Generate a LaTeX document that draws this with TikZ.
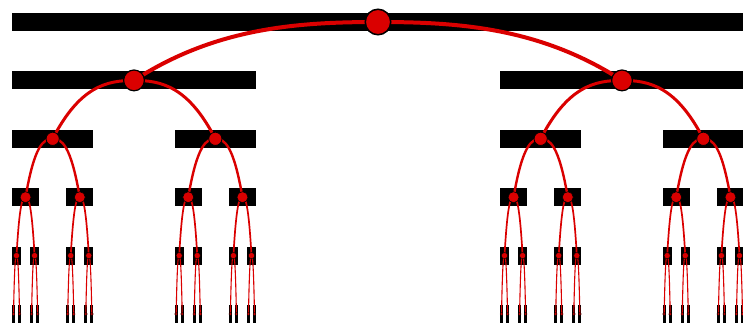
\documentclass[tikz,border=0pt]{standalone}
\usetikzlibrary{calc}
\definecolor{tred}{RGB}{218,0,0}
\pgfdeclarelayer{bars}
\pgfdeclarelayer{edges}
\pgfsetlayers{bars,edges,main}
\tikzset{
  barfill/.style={fill=black},
  cnode/.style={circle, fill=tred, draw=black, inner sep=0pt},
  tedge/.style={draw=tred},
}
\begin{document}
\begin{tikzpicture}[x=1pt,y=-1pt]
\useasboundingbox (0,0) rectangle (743,325);
\clip (0,0) rectangle (743,325);
% centres of the Cantor intervals
\expandafter\xdef\csname cx-0-0\endcsname{378}
\foreach \L in {1,...,5}{
  \pgfmathtruncatemacro\Lm{\L-1}
  \pgfmathtruncatemacro\N{2^\L-1}
  \foreach \i in {0,...,\N}{
    \pgfmathtruncatemacro\p{floor(\i/2)}
    \pgfmathsetmacro\s{ifthenelse(mod(\i,2)==0,-1,1)}
    \pgfmathsetmacro\v{\csname cx-\Lm-\p\endcsname + \s*732/3^\L}
    \expandafter\xdef\csname cx-\L-\i\endcsname{\v}
  }
}
% bars, nodes and edges
\foreach \L/\r/\ow/\ew in {0/12.75/1.5/0, 1/10.4/1.2/4, 2/6.6/0.8/3, 3/5.5/0.6/2.4, 4/3.1/0.4/1.7, 5/1.5/0.3/1.1}{
  \pgfmathsetmacro\y{22+58.4*\L}
  \pgfmathsetmacro\yp{22+58.4*(\L-1)}
  \pgfmathsetmacro\w{732/3^\L}
  \pgfmathsetmacro\d{2*\r}
  \pgfmathtruncatemacro\N{2^\L-1}
  \pgfmathtruncatemacro\Lm{\L-1}
  \foreach \i in {0,...,\N}{
    \pgfmathsetmacro\cx{\csname cx-\L-\i\endcsname}
    \begin{pgfonlayer}{bars}
      \fill[barfill] (\cx-\w/2, \y-9) rectangle (\cx+\w/2, \y+9);
    \end{pgfonlayer}
    \node[cnode, minimum size=\d pt, line width=\ow pt] (n-\L-\i) at (\cx,\y) {};
    \ifnum\L>0
      \pgfmathtruncatemacro\p{floor(\i/2)}
      \pgfmathsetmacro\cxp{\csname cx-\Lm-\p\endcsname}
      \pgfmathsetmacro\dx{\cx-\cxp}
      \begin{pgfonlayer}{edges}
        \draw[tedge, line width=\ew pt] (n-\Lm-\p.center) .. controls (\cxp+\dx/3, \yp) and (\cx-\dx/3, \y-52.56) .. (n-\L-\i.center);
      \end{pgfonlayer}
    \fi
  }
}
\end{tikzpicture}
\end{document}
